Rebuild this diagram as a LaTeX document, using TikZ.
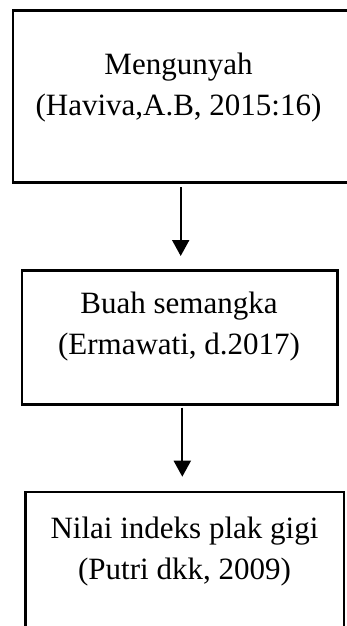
\documentclass[tikz,border=0pt]{standalone}
\usepackage{fontspec}
\setmainfont{Liberation Serif}
\usetikzlibrary{arrows.meta}
\begin{document}
\begin{tikzpicture}[x=1pt,y=-1pt,
  box/.style={draw=black, line width=2.6pt, inner sep=0pt, outer sep=0pt, fill=none},
  lbl/.style={align=center, inner sep=0pt, anchor=base, font=\fontsize{31}{40.7}\selectfont},
  arr/.style={line width=2pt, -{Triangle[length=16pt,width=17pt]}}]
\useasboundingbox[fill=white] (0,0) rectangle (346,626);
\node[box, minimum width=335pt, minimum height=171.6pt] (b1) at (180.5,96.5) {};
\node[box, minimum width=315.3pt, minimum height=134.2pt] (b2) at (179.65,337.6) {};
\node[box, minimum width=318.7pt, minimum height=148pt] (b3) at (184.65,566) {};
\node[lbl] (t1) at (178.5,115.5) {Mengunyah\\(Haviva,A.B, 2015:16)};
\node[lbl] (t2) at (179,354) {Buah semangka\\(Ermawati, d.2017)};
\node[lbl] (t3) at (184.5,579) {Nilai indeks plak gigi\\(Putri dkk, 2009)};
\coordinate (a1s) at (180.7,187);
\coordinate (a1e) at (180.7,256);
\coordinate (a2s) at (182.3,407.7);
\coordinate (a2e) at (182.3,476.7);
\draw[arr] (a1s) -- (a1e);
\draw[arr] (a2s) -- (a2e);
\end{tikzpicture}
\end{document}
